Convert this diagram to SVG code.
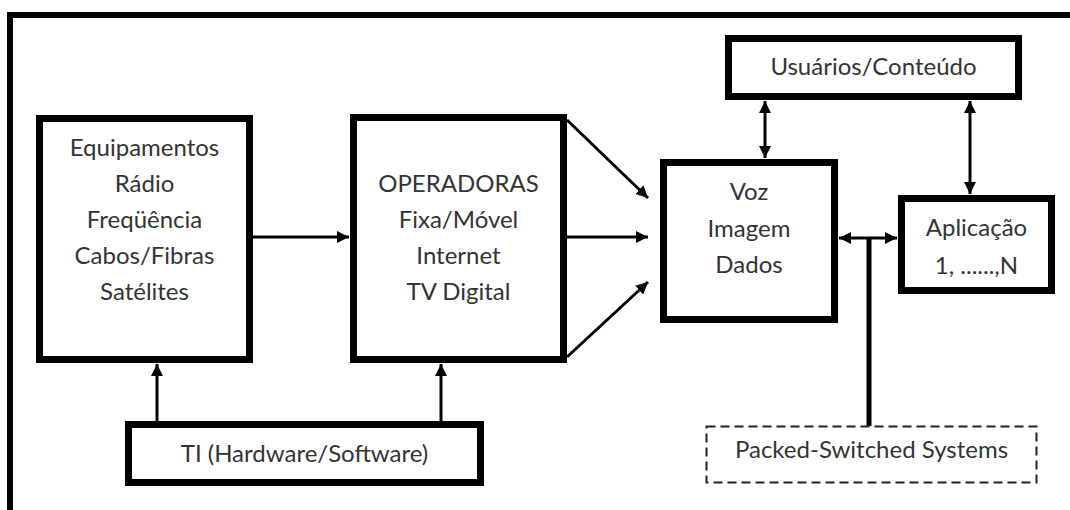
<svg xmlns="http://www.w3.org/2000/svg" width="1070" height="510" viewBox="0 0 1070 510">
  <defs>
    <marker id="ah" markerUnits="userSpaceOnUse" markerWidth="13" markerHeight="12" refX="12" refY="6" orient="auto-start-reverse">
      <path d="M0,0 L12,6 L0,12 z" fill="#000"/>
    </marker>
    <style>
      .box { fill: #fff; stroke: #000; stroke-width: 7; }
      .dash { fill: #fff; stroke: #222; stroke-width: 2; stroke-dasharray: 9 5; }
      .t { font-family: Lato, "Open Sans", sans-serif; font-size: 24px; fill: #333; text-anchor: middle; }
      .c { stroke: #000; stroke-width: 3; fill: none; }
      .ce { stroke: #000; stroke-width: 3; fill: none; marker-end: url(#ah); }
      .cb { stroke: #000; stroke-width: 3; fill: none; marker-start: url(#ah); marker-end: url(#ah); }
    </style>
  </defs>
  <rect width="1070" height="510" fill="#fff"/>
  <path d="M10,510 L10,15 L1070,15" fill="none" stroke="#000" stroke-width="6"/>

  <g id="connectors">
    <line class="ce" x1="253" y1="237" x2="349" y2="237"/>
    <line class="ce" x1="567" y1="120" x2="648" y2="198"/>
    <line class="ce" x1="567" y1="237" x2="648" y2="237"/>
    <line class="ce" x1="567" y1="357" x2="648" y2="282"/>
    <line class="ce" x1="157" y1="421" x2="157" y2="364"/>
    <line class="ce" x1="441" y1="421" x2="441" y2="364"/>
    <line class="cb" x1="765" y1="101" x2="765" y2="158"/>
    <line class="cb" x1="970" y1="101" x2="970" y2="194"/>
    <line class="cb" x1="839" y1="238" x2="897" y2="238"/>
    <line stroke="#000" stroke-width="5" x1="869" y1="238" x2="869" y2="426"/>
  </g>

  <g id="equipamentos">
    <rect class="box" x="39.5" y="118.5" width="210" height="241"/>
    <text class="t" x="144.5" y="156">Equipamentos</text>
    <text class="t" x="144.5" y="192">Rádio</text>
    <text class="t" x="144.5" y="228">Freqüência</text>
    <text class="t" x="144.5" y="264">Cabos/Fibras</text>
    <text class="t" x="144.5" y="300">Satélites</text>
  </g>

  <g id="operadoras">
    <rect class="box" x="353.5" y="117.5" width="210" height="242"/>
    <text class="t" x="458.5" y="192">OPERADORAS</text>
    <text class="t" x="458.5" y="228">Fixa/Móvel</text>
    <text class="t" x="458.5" y="264">Internet</text>
    <text class="t" x="458.5" y="300">TV Digital</text>
  </g>

  <g id="voz">
    <rect class="box" x="663.5" y="162.5" width="171" height="157"/>
    <text class="t" x="749" y="200">Voz</text>
    <text class="t" x="749" y="236.5">Imagem</text>
    <text class="t" x="749" y="273">Dados</text>
  </g>

  <g id="usuarios">
    <rect class="box" x="728.5" y="38.5" width="290" height="58"/>
    <text class="t" x="873.5" y="75">Usuários/Conteúdo</text>
  </g>

  <g id="aplicacao">
    <rect class="box" x="901.5" y="198.5" width="150" height="92"/>
    <text class="t" x="976.5" y="236">Aplicação</text>
    <text class="t" x="976.5" y="274">1, ......,N</text>
  </g>

  <g id="ti">
    <rect class="box" x="128.5" y="424.5" width="352" height="58"/>
    <text class="t" x="304.5" y="462">TI (Hardware/Software)</text>
  </g>

  <g id="packed">
    <rect class="dash" x="706.5" y="426.5" width="330" height="56"/>
    <text class="t" x="871.5" y="458">Packed-Switched Systems</text>
  </g>
</svg>
